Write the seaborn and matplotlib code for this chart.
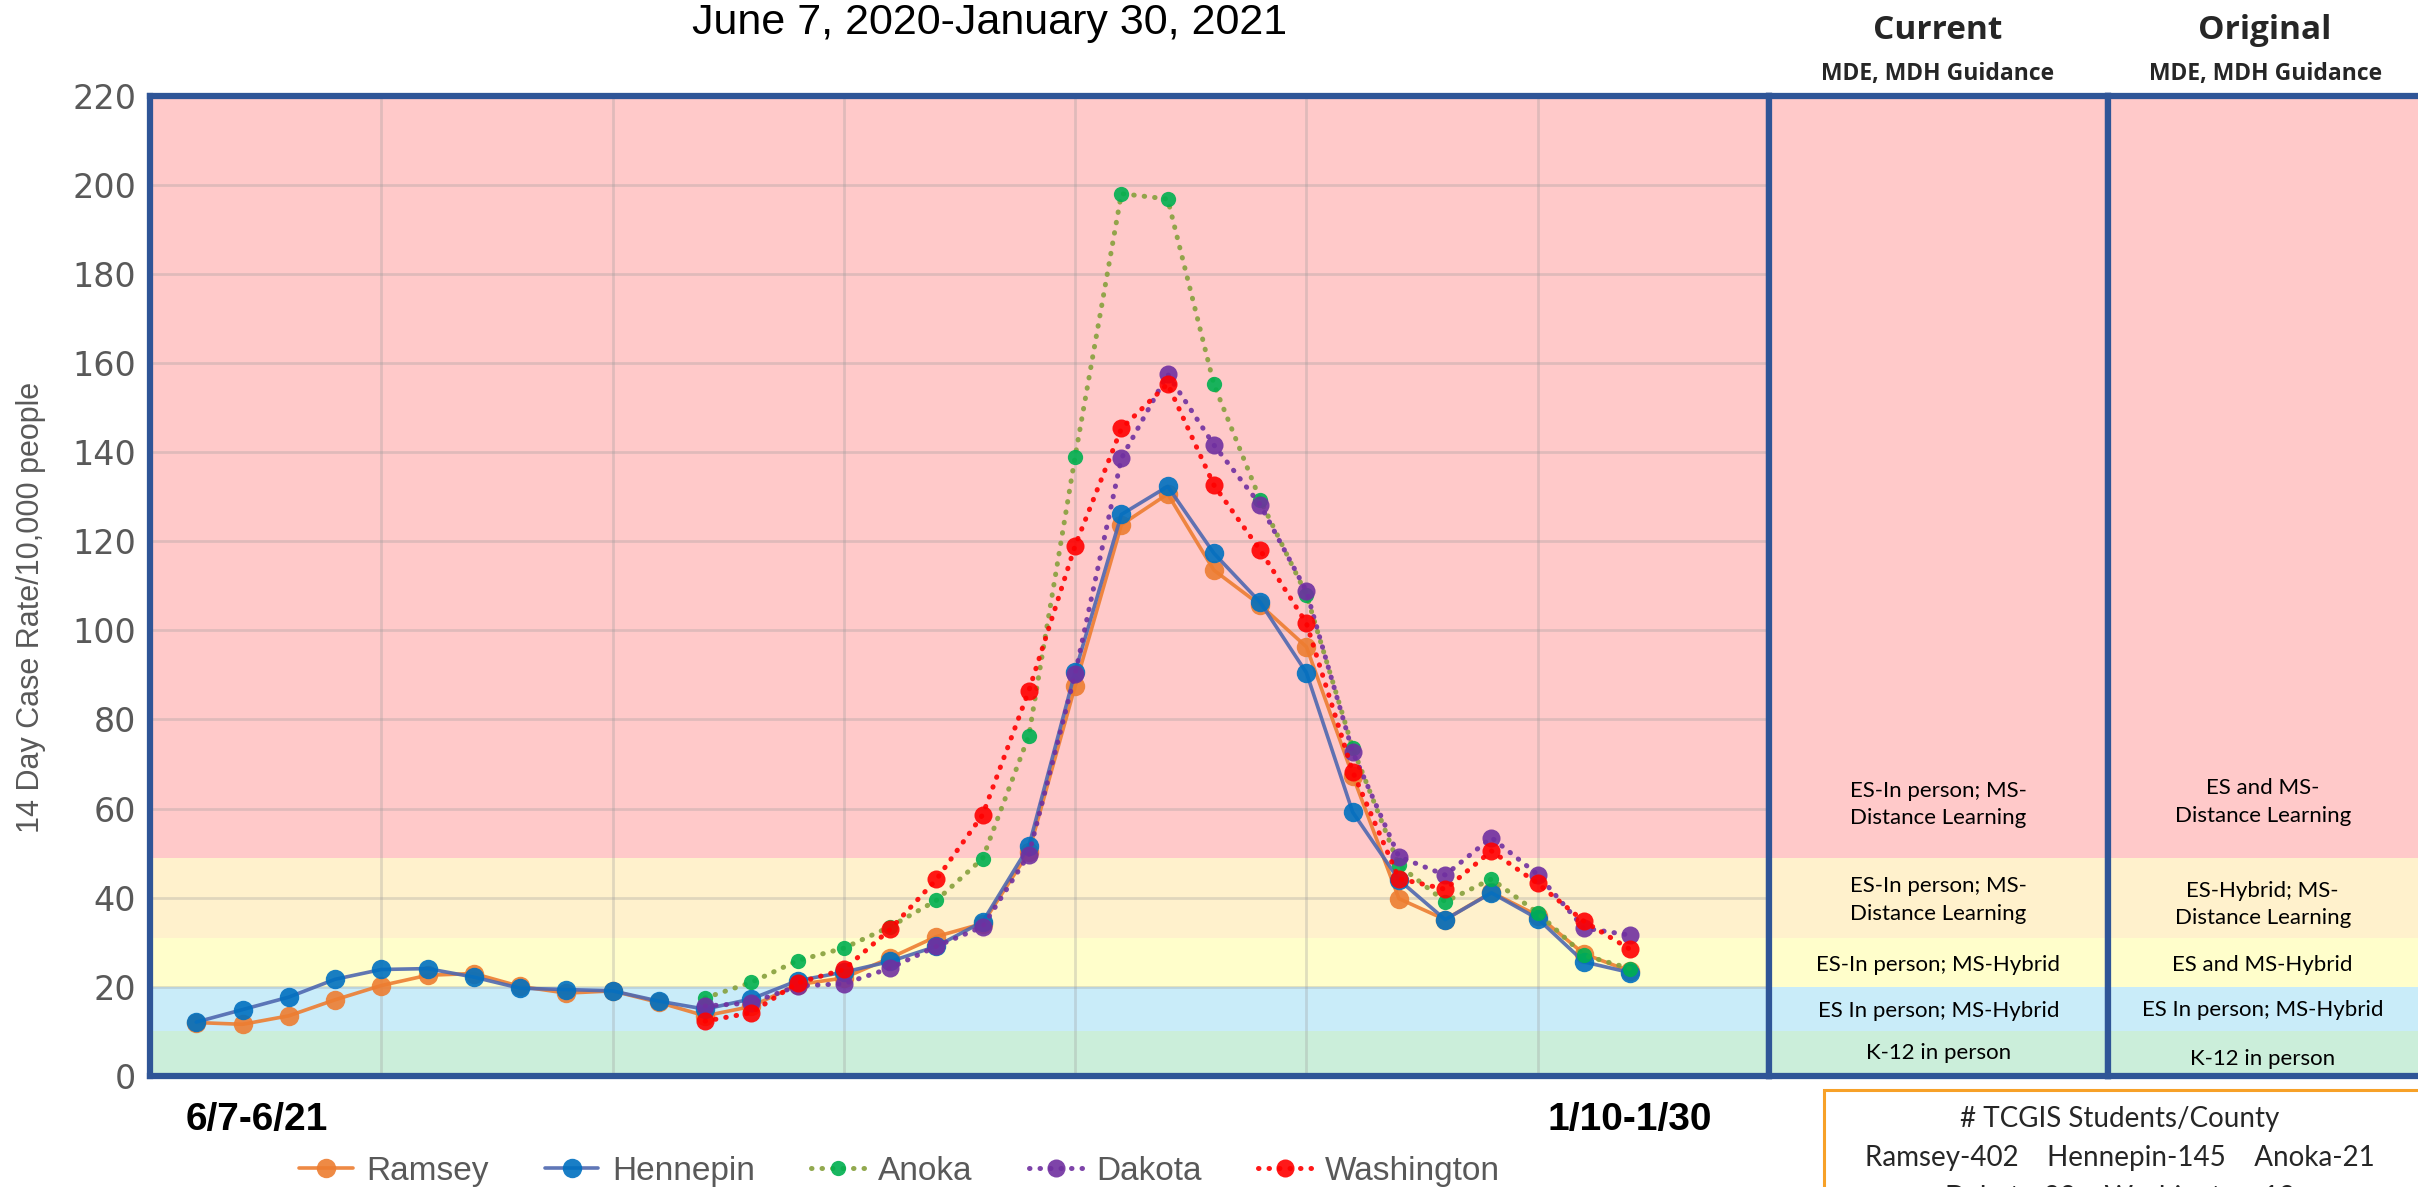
import matplotlib
matplotlib.use('Agg')
import matplotlib.pyplot as plt
import seaborn as sns
import pandas as pd
from matplotlib import font_manager
from matplotlib.patches import Rectangle
from matplotlib.transforms import blended_transform_factory

# 14-day windows, 6/7-6/21 is window 1 and 1/10-1/30 is window 32
weeks_all = list(range(1, 33))
weeks_late = list(range(12, 33))

ramsey = [12.0, 11.6, 13.5, 17.1, 20.3, 22.6, 23.0, 20.1, 18.6, 19.1, 16.5,
          13.5, 15.6, 20.5, 22.0, 26.5, 31.3, 34.2, 50.3, 87.5, 123.7, 130.6,
          113.5, 105.7, 96.3, 67.4, 39.8, 35.1, 41.2, 36.0, 27.4, 23.5]
hennepin = [12.1, 14.9, 17.7, 21.7, 23.9, 24.1, 22.2, 19.7, 19.4, 19.1, 16.8,
            15.0, 17.3, 21.4, 23.3, 25.7, 29.1, 34.6, 51.6, 90.7, 126.0, 132.3,
            117.3, 106.3, 90.5, 59.2, 44.0, 35.1, 41.1, 35.3, 25.6, 23.2]
anoka = [17.5, 21.0, 25.9, 28.7, 33.5, 39.4, 48.8, 76.4, 139.0, 198.0, 196.8,
         155.2, 129.3, 108.0, 73.6, 47.3, 39.1, 44.2, 36.6, 27.1, 24.1]
dakota = [15.7, 16.4, 20.2, 20.7, 24.2, 29.1, 33.5, 49.7, 90.2, 138.6, 157.5,
          141.6, 128.2, 108.8, 72.7, 49.2, 45.1, 53.5, 45.2, 33.2, 31.6]
washington = [12.3, 14.2, 20.9, 23.9, 32.9, 44.1, 58.6, 86.5, 119.0, 145.3, 155.3,
              132.6, 118.0, 101.6, 68.3, 44.3, 41.9, 50.5, 43.2, 34.7, 28.4]

counties = ['Ramsey', 'Hennepin', 'Anoka', 'Dakota', 'Washington']

# guidance bands (case rate thresholds) and the learning model for each
band_edges = [0, 10, 20, 31, 49, 220]
band_colors = ['#CBEEDA', '#C9ECF9', '#FFFECB', '#FFF1CC', '#FFC9C9']
current_rules = ['K-12 in person', 'ES In person; MS-Hybrid', 'ES-In person; MS-Hybrid',
                 'ES-In person; MS-\nDistance Learning', 'ES-In person; MS-\nDistance Learning']
original_rules = ['K-12 in person', 'ES In person; MS-Hybrid', 'ES and MS-Hybrid',
                  'ES-Hybrid; MS-\nDistance Learning', 'ES and MS-\nDistance Learning']

student_counts = ['Ramsey-402', 'Hennepin-145', 'Anoka-21', 'Dakota-22', 'Washington-12']

sns.set_style('white')
names = {f.name for f in font_manager.fontManager.ttflist}
narrow = 'Liberation Sans Narrow' if 'Liberation Sans Narrow' in names else 'Liberation Sans'
plt.rcParams['font.family'] = [narrow, 'DejaVu Sans']

frame = '#2F5597'
gray_txt = '#595959'

df = pd.concat([
    pd.DataFrame({'week': weeks_all, 'rate': ramsey, 'county': 'Ramsey'}),
    pd.DataFrame({'week': weeks_all, 'rate': hennepin, 'county': 'Hennepin'}),
    pd.DataFrame({'week': weeks_late, 'rate': anoka, 'county': 'Anoka'}),
    pd.DataFrame({'week': weeks_late, 'rate': dakota, 'county': 'Dakota'}),
    pd.DataFrame({'week': weeks_late, 'rate': washington, 'county': 'Washington'}),
])

dot = (0, (0.1, 2.0))
styles = {
    'Ramsey': dict(color='#ED7D31', mfc='#ED7D31', ls='-', lw=2.6, ms=14),
    'Hennepin': dict(color='#4F68B0', mfc='#0070C0', ls='-', lw=2.6, ms=14),
    'Anoka': dict(color='#86A03C', mfc='#00B050', ls=dot, lw=3.6, ms=11),
    'Dakota': dict(color='#7030A0', mfc='#7030A0', ls=dot, lw=3.6, ms=13),
    'Washington': dict(color='#FF0000', mfc='#FF0000', ls=dot, lw=3.6, ms=13),
}

fig = plt.figure(figsize=(24.18, 11.87), dpi=100)
ax_h = (1076 - 95.6) / 1187
ax_b = 1 - 1076 / 1187
ax = fig.add_axes([150 / 2418, ax_b, (1769 - 150) / 2418, ax_h])
ax_cur = fig.add_axes([1769 / 2418, ax_b, (2108 - 1769) / 2418, ax_h])
ax_org = fig.add_axes([2108 / 2418, ax_b, 340 / 2418, ax_h])

for a in (ax, ax_cur, ax_org):
    for lo, hi, c in zip(band_edges[:-1], band_edges[1:], band_colors):
        a.axhspan(lo, hi, color=c, lw=0, zorder=0)
    a.set_ylim(0, 220)
    for s in a.spines.values():
        s.set_color(frame)
        s.set_linewidth(4.5)
        s.set_zorder(5)

for county in counties:
    st = styles[county]
    sub = df[df['county'] == county]
    sns.lineplot(data=sub, x='week', y='rate', ax=ax, color=st['color'],
                 linestyle=st['ls'], linewidth=st['lw'], marker='o',
                 markersize=st['ms'], markerfacecolor=st['mfc'],
                 markeredgewidth=0, alpha=0.9, label=county)

for line in ax.lines:
    line.set_dash_capstyle('round')

ax.set_xlim(0, 35)
ax.set_xticks(range(0, 36, 5))
ax.set_yticks(range(0, 221, 20))
ax.set_xticklabels([])
ax.grid(True, color='#9A9A9A', alpha=0.3, lw=2)
ax.tick_params(axis='both', length=0)
ax.tick_params(axis='y', pad=10, labelsize=24, labelcolor=gray_txt)
for lbl in ax.get_yticklabels():
    lbl.set_family('DejaVu Sans')
ax.set_xlabel('')
ax.set_ylabel('14 Day Case Rate/10,000 people', fontsize=22, color=gray_txt)
ax.yaxis.set_label_coords(-0.064, 0.478)

lab_tr = blended_transform_factory(ax.transData, ax.transAxes)
ax.text(2.3, -0.045, '6/7-6/21', transform=lab_tr, ha='center', va='center',
        fontsize=28, fontweight='bold', color='black')
ax.text(32, -0.045, '1/10-1/30', transform=lab_tr, ha='center', va='center',
        fontsize=28, fontweight='bold', color='black')

handles, labels = ax.get_legend_handles_labels()
ax.get_legend().remove()
fig.legend(handles, labels, loc='center', bbox_to_anchor=(0.372, 0.013), ncol=5,
           frameon=False, fontsize=24, labelcolor=gray_txt, handlelength=1.6,
           columnspacing=1.7, handletextpad=0.4)

# guidance panels
cur_y = [5.2, 14.5, 25, 39.5, 61]
org_y = [3.8, 14.8, 25, 38.5, 61.5]
for a, rules, ys, xc in ((ax_cur, current_rules, cur_y, 0.5), (ax_org, original_rules, org_y, 0.455)):
    a.set_xlim(0, 1)
    a.set_xticks([])
    a.set_yticks([])
    tr = blended_transform_factory(a.transAxes, a.transData)
    for txt, y in zip(rules, ys):
        a.text(xc, y, txt, transform=tr, ha='center', va='center', fontsize=16,
               family=['Lato', 'DejaVu Sans'], color='black', linespacing=1.45)

fig.text(0.4094, 0.981, 'June 7, 2020-January 30, 2021', ha='center', va='center',
         fontsize=31, color='black')
for xc, head in ((0.8015, 'Current'), (0.9368, 'Original')):
    fig.text(xc, 0.974, head, ha='center', va='center', fontsize=24,
             fontweight='bold', family=['Open Sans', 'DejaVu Sans'])
    fig.text(xc, 0.938, 'MDE, MDH Guidance', ha='center', va='center', fontsize=16.5,
             fontweight='bold', family=['Open Sans', 'DejaVu Sans'])

# student count box
fig.patches.append(Rectangle((1824 / 2418, -0.1), 0.26, 1 - 1090 / 1187 + 0.1,
                             transform=fig.transFigure, fill=False,
                             edgecolor='#F7A128', lw=2.2))
fig.text(2120 / 2418, 1 - 1119 / 1187, '# TCGIS Students/County', ha='center', va='center',
         fontsize=20, family=['Lato', 'DejaVu Sans'])
fig.text(2120 / 2418, 1 - 1158 / 1187, '    '.join(student_counts[:3]), ha='center',
         va='center', fontsize=20, family=['Lato', 'DejaVu Sans'])
fig.text(2120 / 2418, 1 - 1198 / 1187, '    '.join(student_counts[3:]), ha='center',
         va='center', fontsize=20, family=['Lato', 'DejaVu Sans'])

fig.savefig('out.png', dpi=100)
